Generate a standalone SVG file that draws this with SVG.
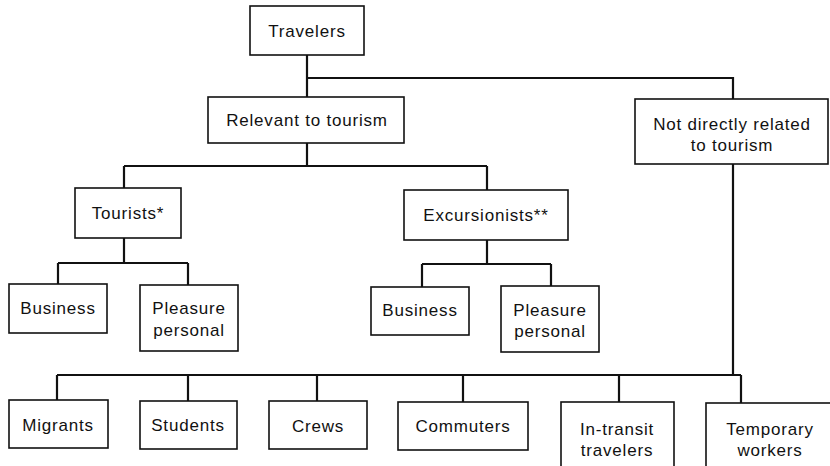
<svg xmlns="http://www.w3.org/2000/svg" width="830" height="466" viewBox="0 0 830 466">
<style>
.box{fill:#fff;stroke:#111;stroke-width:1.6}
.c{fill:none;stroke:#111;stroke-width:2.2}
text{font-family:"Liberation Sans",Arial,sans-serif;font-size:17px;fill:#111;text-anchor:middle;letter-spacing:0.8px}
</style>
<rect width="830" height="466" fill="#fff"/>
<g id="connectors">
<path class="c" d="M307 55V97M307 78H733V99M307 143V166M124 166H487M124 166V188M487 166V190"/>
<path class="c" d="M124 238V263M58 263H188M58 263V284M188 263V285"/>
<path class="c" d="M487 240V264M422 264H551M422 264V287M551 264V286"/>
<path class="c" d="M733 164V375M57 375H741M57 375V400M188 375V401M317 375V401M463 375V402M619 375V402M741 375V403"/>
</g>
<g id="travelers"><rect class="box" x="250" y="6" width="114" height="49"/><text x="307" y="37">Travelers</text></g>
<g id="relevant"><rect class="box" x="208" y="97" width="196" height="46"/><text x="307" y="126">Relevant to tourism</text></g>
<g id="notdirectly"><rect class="box" x="635" y="99" width="193" height="65"/><text x="732" y="130">Not directly related</text><text x="732" y="151">to tourism</text></g>
<g id="tourists"><rect class="box" x="75" y="188" width="106" height="50"/><text x="128" y="219">Tourists*</text></g>
<g id="excursionists"><rect class="box" x="404" y="190" width="164" height="50"/><text x="486" y="221">Excursionists**</text></g>
<g id="business1"><rect class="box" x="9" y="284" width="98" height="49"/><text x="58" y="314">Business</text></g>
<g id="pleasure1"><rect class="box" x="140" y="285" width="98" height="66"/><text x="189" y="314">Pleasure</text><text x="189" y="336">personal</text></g>
<g id="business2"><rect class="box" x="371" y="287" width="98" height="48"/><text x="420" y="316">Business</text></g>
<g id="pleasure2"><rect class="box" x="501" y="286" width="98" height="66"/><text x="550" y="316">Pleasure</text><text x="550" y="337">personal</text></g>
<g id="migrants"><rect class="box" x="9" y="400" width="99" height="48"/><text x="58" y="431">Migrants</text></g>
<g id="students"><rect class="box" x="140" y="401" width="97" height="48"/><text x="188" y="431">Students</text></g>
<g id="crews"><rect class="box" x="269" y="401" width="98" height="48"/><text x="318" y="432">Crews</text></g>
<g id="commuters"><rect class="box" x="398" y="402" width="130" height="48"/><text x="463" y="432">Commuters</text></g>
<g id="intransit"><rect class="box" x="561" y="402" width="113" height="70"/><text x="617" y="435">In-transit</text><text x="617" y="456">travelers</text></g>
<g id="temporary"><rect class="box" x="706" y="403" width="130" height="70"/><text x="770" y="435">Temporary</text><text x="770" y="456">workers</text></g>
</svg>
